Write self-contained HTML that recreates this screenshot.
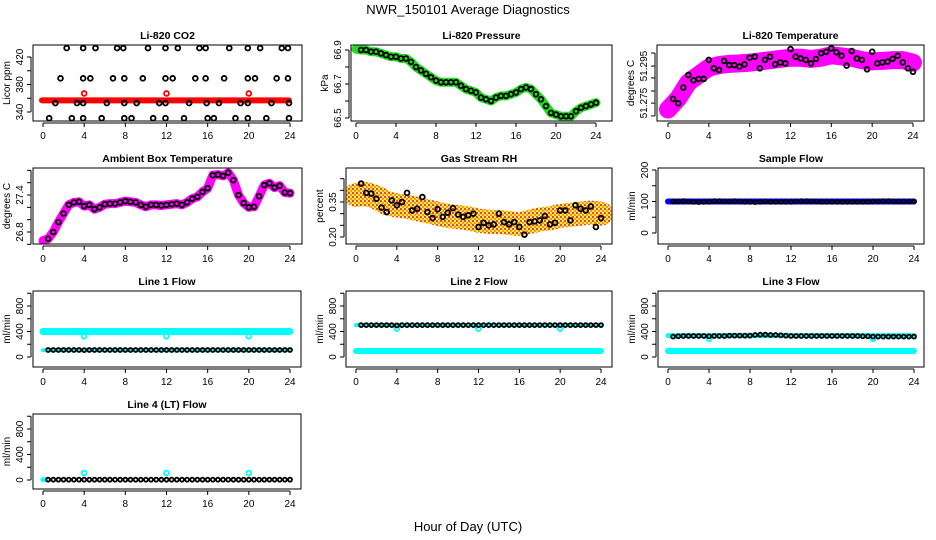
<!DOCTYPE html>
<html><head><meta charset="utf-8"><style>
html,body{margin:0;padding:0;background:#fff;}
svg{display:block;font-family:"Liberation Sans",sans-serif;}
</style></head><body>
<svg id="chart" width="936" height="540" viewBox="0 0 936 540">
<defs>
<pattern id="rhpat" width="4" height="4" patternUnits="userSpaceOnUse">
<rect width="4" height="4" fill="#ffe060"/><rect width="2" height="2" fill="#e85000"/><rect x="2" y="2" width="2" height="2" fill="#f0a000"/><rect x="2" y="0" width="1" height="1" fill="#ffffff"/>
</pattern>
</defs>
<text x="468" y="14" text-anchor="middle" font-size="13">NWR_150101  Average Diagnostics</text>
<text x="468" y="531" text-anchor="middle" font-size="13">Hour of Day (UTC)</text>
</svg>
<script>
const hours = [0.5,1,1.5,2,2.5,3,3.5,4,4.5,5,5.5,6,6.5,7,7.5,8,8.5,9,9.5,10,10.5,11,11.5,12,12.5,13,13.5,14,14.5,15,15.5,16,16.5,17,17.5,18,18.5,19,19.5,20,20.5,21,21.5,22,22.5,23,23.5,24];
const xTicks = [0,4,8,12,16,20,24];

const co2Hours = [2.3,3.9,5.1,7.2,7.8,10.2,11.9,13.1,15.2,15.8,18.1,19.9,21.1,23.2,23.8, 1.7,3.9,4.6,6.8,7.9,9.7,11.9,12.6,14.8,15.8,17.6,19.9,20.6,22.7,23.8, 1.2,3.3,3.9,6.2,7.9,9.1,11.3,11.9,14.2,15.9,17.1,19.2,19.9,22.2,23.9, 0.6,2.8,3.9,5.7,7.9,8.6,10.7,11.9,13.7,16.0,16.6,18.7,19.9,21.7,23.9];
const co2Values = [433,433,433,433,433,433,433,433,433,433,433,433,433,433,433, 389,389,389,389,389,389,389,389,389,389,389,389,389,389,389, 353,353,353,353,353,353,353,353,353,353,353,353,353,353,353, 331,331,331,331,331,331,331,331,331,331,331,331,331,331,331];
const co2BandHours = [-0.1,23.9];
const co2BandValues = [357,357];
const co2OutHours = [4,12,20];
const co2OutValues = [367,367,367];

const pressureValues = [66.9,66.9,66.89,66.89,66.88,66.87,66.86,66.86,66.85,66.85,66.83,66.8,66.78,66.76,66.74,66.72,66.71,66.71,66.71,66.71,66.69,66.67,66.66,66.65,66.62,66.61,66.6,66.62,66.63,66.63,66.64,66.65,66.67,66.68,66.67,66.64,66.61,66.57,66.53,66.52,66.51,66.51,66.51,66.54,66.56,66.57,66.58,66.59];

const tempValues = [51.2768,51.2750,51.2814,51.2865,51.2843,51.2849,51.2849,51.2926,51.2892,51.2885,51.2922,51.2905,51.2905,51.2899,51.2908,51.2935,51.2939,51.2892,51.2926,51.2939,51.2908,51.2916,51.2912,51.2970,51.2939,51.2932,51.2926,51.2912,51.2930,51.2953,51.2959,51.2973,51.2957,51.2943,51.2903,51.2962,51.2932,51.2926,51.2888,51.2959,51.2912,51.2916,51.2919,51.2930,51.2943,51.2916,51.2892,51.2878];
const tempBandHours = [0,1,2,3,4,5,6,7,8,9,10,11,12,13,14,15,16,17,18,19,20,21,22,23,24];
const tempBandValues = [51.2725,51.277,51.2835,51.2865,51.2895,51.2905,51.291,51.2912,51.2915,51.292,51.2925,51.293,51.2935,51.2935,51.293,51.2935,51.2945,51.294,51.2935,51.2925,51.292,51.2922,51.2925,51.2925,51.2915];

const ambientValues = [26.69,26.80,26.96,27.10,27.24,27.28,27.29,27.22,27.24,27.17,27.20,27.25,27.26,27.26,27.28,27.30,27.29,27.28,27.24,27.21,27.24,27.24,27.23,27.24,27.25,27.26,27.24,27.28,27.34,27.37,27.45,27.51,27.72,27.73,27.71,27.76,27.64,27.40,27.27,27.20,27.21,27.38,27.56,27.59,27.52,27.55,27.44,27.43];

const rhValues = [0.429,0.389,0.386,0.364,0.326,0.307,0.357,0.336,0.35,0.389,0.314,0.321,0.371,0.307,0.281,0.319,0.286,0.304,0.324,0.296,0.286,0.293,0.300,0.243,0.261,0.25,0.254,0.30,0.264,0.254,0.264,0.243,0.21,0.264,0.267,0.271,0.29,0.254,0.261,0.314,0.314,0.271,0.336,0.321,0.314,0.331,0.243,0.281];
const rhBandHours = [0,1,2,3,4,5,6,7,8,9,10,11,12,13,14,15,16,17,18,19,20,21,22,23,24];
const rhBandValues = [0.38,0.385,0.37,0.345,0.335,0.33,0.32,0.31,0.3,0.29,0.285,0.28,0.27,0.265,0.265,0.26,0.255,0.265,0.275,0.28,0.29,0.295,0.3,0.305,0.3];

const sampleValues = [100,100,101,100,99,98,99,99,101,101,100,100,101,100,99,99,98,99,100,99,99,99,99,99,100,101,101,100,100,99,99,99,99,99,99,99,99,99,99,100,100,101,101,100,100,100,100,100];
const sampleBandHours = [0,24];
const sampleBandValues = [100,100];

const line1Values = [110,110,110,110,110,110,110,108,110,110,110,110,110,110,110,110,110,110,110,110,110,110,110,110,110,110,110,110,110,110,110,110,110,110,110,110,110,110,110,110,110,110,110,110,110,110,110,110];
const line1HighHours = [0,24];
const line1HighValues = [400,400];
const line1LowHours = [0,24];
const line1LowValues = [105,105];
const line1DipHours = [4,12,20];
const line1DipValues = [325,325,325];

const line2Values = [500,500,500,500,500,500,500,495,500,500,500,500,500,500,500,500,500,500,500,500,500,500,500,500,500,500,500,500,500,500,500,500,500,500,500,500,500,500,500,500,500,500,500,500,500,500,500,500];
const line2HighHours = [0,24];
const line2HighValues = [500,500];
const line2LowHours = [0,24];
const line2LowValues = [95,95];
const line2DipHours = [4,12,20];
const line2DipValues = [445,445,445];

const line3Values = [320,325,330,330,330,330,330,325,330,330,330,335,335,335,335,335,345,350,350,345,345,340,335,330,330,330,330,330,330,330,330,330,330,330,330,330,330,325,325,320,320,320,320,320,320,320,320,320];
const line3HighHours = [0,24];
const line3HighValues = [335,335];
const line3LowHours = [0,24];
const line3LowValues = [95,95];
const line3DipHours = [4,20];
const line3DipValues = [285,285];

const line4Values = [5,5,5,5,5,5,5,5,5,5,5,5,5,5,5,5,5,5,5,5,5,5,5,5,5,5,5,5,5,5,5,5,5,5,5,5,5,5,5,5,5,5,5,5,5,5,5,5];
const line4BandHours = [0,0.3];
const line4BandValues = [5,5];
const line4DipHours = [4,12,20];
const line4DipValues = [110,110,110];

const flowTicks = [0,200,400,600,800,1000];
const flowLabels = ["0","","400","","800",""];

const svg = document.getElementById('chart');
const NS = 'http://www.w3.org/2000/svg';
function mk(tag, attrs, parent){
  const e = document.createElementNS(NS, tag);
  for (const k in attrs) e.setAttribute(k, attrs[k]);
  (parent||svg).appendChild(e);
  return e;
}

function panel(p){
  const g = mk('g', {});
  
  
  const sx = h => p.x0 + (h/24)*(p.x24 - p.x0);
  const sy = v => p.py0 + (v - p.v0)/(p.v1 - p.v0)*(p.py1 - p.py0);
  p.sx = sx; p.sy = sy; p.g = g;
  const t = mk('text', {x:(p.bl+p.br)/2, y:p.bt-6, 'text-anchor':'middle','font-size':10.5,'font-weight':'bold'}, g);
  t.textContent = p.title;
  
  
  const cid = 'clip' + p.name;
  const cp = mk('clipPath', {id:cid}, g);
  mk('rect', {x:p.bl, y:p.bt, width:p.br-p.bl, height:p.bb-p.bt}, cp);
  p.plot = mk('g', {'clip-path':'url(#'+cid+')'}, g);
  
  
  const box = mk('rect', {x:p.bl, y:p.bt, width:p.br-p.bl, height:p.bb-p.bt, fill:'none', stroke:'#000','stroke-width':1}, g);
  
  
  const xa = mk('g', {}, g);
  
  
  mk('line', {x1:sx(xTicks[0]), x2:sx(xTicks[xTicks.length-1]), y1:p.bb+2, y2:p.bb+2, stroke:'#000'}, xa);
  xTicks.forEach(v => {
    mk('line', {x1:sx(v), x2:sx(v), y1:p.bb+2, y2:p.bb+6, stroke:'#000'}, xa);
    const tl = mk('text', {x:sx(v), y:p.bb+18, 'text-anchor':'middle','font-size':10}, xa);
    tl.textContent = v;
    
    
  });
  const ya = mk('g', {}, g);
  
  
  const ax = p.bl - 2;
  mk('line', {x1:ax, x2:ax, y1:sy(p.yTicks[0]), y2:sy(p.yTicks[p.yTicks.length-1]), stroke:'#000'}, ya);
  p.yTicks.forEach((v,i) => {
    const y = sy(v);
    mk('line', {x1:ax-4, x2:ax, y1:y, y2:y, stroke:'#000'}, ya);
    if (p.yLabels[i]) {
      const tl = mk('text', {x:ax-8, y:y, 'text-anchor':'middle','font-size':10, transform:'rotate(-90 '+(ax-8)+' '+y+')'}, ya);
      tl.textContent = p.yLabels[i];
      
      
    }
  });
  const yt = mk('text', {x:p.bl-23, y:(p.bt+p.bb)/2, 'text-anchor':'middle','font-size':10, transform:'rotate(-90 '+(p.bl-23)+' '+((p.bt+p.bb)/2)+')'}, ya);
  yt.textContent = p.ylab;
  
  
  return p;
}
function band(p, hs, vs, color, w, name){
  const pts = hs.map((h,i) => p.sx(h)+','+p.sy(vs[i])).join(' ');
  const e = mk('polyline', {points:pts, fill:'none', stroke:color, 'stroke-width':w, 'stroke-linecap':'round','stroke-linejoin':'round'}, p.plot);
  
  
}
function pts(p, hs, vs, color, name, r){
  hs.forEach((h,i) => {
    const c = mk('circle', {cx:p.sx(h), cy:p.sy(vs[i]), r:r||2.4, fill:'none', stroke:color, 'stroke-width':1.8}, p.plot);
    
    
  });
}

let p = panel({name:'co2-panel', title:'Li-820 CO2', ylab:'Licor ppm', bl:33, br:302, bt:45, bb:121, x0:43, x24:290, v0:340, py0:112, v1:420, py1:57, yTicks:[340,360,380,400,420], yLabels:['340','','380','','420']});
band(p, co2BandHours, co2BandValues, '#ff0000', 6, 'co2-red-band');
pts(p, co2Hours, co2Values, '#000', 'co2-point');
pts(p, co2OutHours, co2OutValues, '#ff0000', 'co2-red-point');

p = panel({name:'pressure-panel', title:'Li-820 Pressure', ylab:'kPa', bl:351, br:612, bt:45, bb:121, x0:356, x24:596, v0:66.5, py0:118, v1:66.9, py1:50, yTicks:[66.5,66.6,66.7,66.8,66.9], yLabels:['66.5','','66.7','','66.9']});
band(p, [0].concat(hours), [66.905].concat(pressureValues), '#22dd22', 9, 'pressure-green-band');
pts(p, hours, pressureValues, '#000', 'pressure-point');

p = panel({name:'temperature-panel', title:'Li-820 Temperature', ylab:'degrees C', bl:657, br:924, bt:45, bb:121, x0:668, x24:913, v0:51.275, py0:54+0.02*2467, v1:51.295, py1:54, yTicks:[51.2954,51.2901,51.2853,51.2800,51.2751,51.2699], yLabels:['','51.295','','','51.275','']});
band(p, tempBandHours, tempBandValues, '#ff00ff', 18, 'temperature-magenta-band');
pts(p, hours, tempValues, '#000', 'temperature-point');

p = panel({name:'ambient-panel', title:'Ambient Box Temperature', ylab:'degrees C', bl:33, br:302, bt:168, bb:244, x0:43, x24:290, v0:26.8, py0:232, v1:27.4, py1:195, yTicks:[26.6,26.8,27.0,27.2,27.4,27.6,27.8], yLabels:['','26.8','','','27.4','','']});
band(p, [0].concat(hours), [26.66].concat(ambientValues), '#ff00ff', 9, 'ambient-magenta-band');
pts(p, hours, ambientValues, '#000', 'ambient-point');

p = panel({name:'rh-panel', title:'Gas Stream RH', ylab:'percent', bl:346, br:612, bt:168, bb:244, x0:356, x24:601, v0:0.20, py0:237, v1:0.35, py1:202, yTicks:[0.20,0.25,0.30,0.35,0.40,0.45], yLabels:['0.20','','','0.35','','']});
band(p, rhBandHours, rhBandValues, 'url(#rhpat)', 24, 'rh-orange-band');
pts(p, hours, rhValues, '#000', 'rh-point');

p = panel({name:'sample-flow-panel', title:'Sample Flow', ylab:'ml/min', bl:658, br:924, bt:168, bb:244, x0:668, x24:914, v0:0, py0:233, v1:200, py1:170, yTicks:[0,50,100,150,200], yLabels:['0','','100','','200']});
band(p, sampleBandHours, sampleBandValues, '#0000ff', 6, 'sample-blue-band');
pts(p, hours, sampleValues, '#000', 'sample-point', 2);

p = panel({name:'line1-panel', title:'Line 1 Flow', ylab:'ml/min', bl:33, br:301, bt:291, bb:367, x0:43, x24:290, v0:0, py0:357, v1:800, py1:306, yTicks:flowTicks, yLabels:flowLabels});
band(p, line1HighHours, line1HighValues, '#00ffff', 7, 'line1-cyan-band');
band(p, line1LowHours, line1LowValues, '#00ffff', 4, 'line1-cyan-low');
pts(p, line1DipHours, line1DipValues, '#00ffff', 'line1-cyan-dip');
pts(p, hours, line1Values, '#000', 'line1-point', 2);

p = panel({name:'line2-panel', title:'Line 2 Flow', ylab:'ml/min', bl:346, br:612, bt:291, bb:367, x0:356, x24:601, v0:0, py0:357, v1:800, py1:306, yTicks:flowTicks, yLabels:flowLabels});
band(p, line2HighHours, line2HighValues, '#00ffff', 4, 'line2-cyan-band');
band(p, line2LowHours, line2LowValues, '#00ffff', 6, 'line2-cyan-low');
pts(p, line2DipHours, line2DipValues, '#00ffff', 'line2-cyan-dip');
pts(p, hours, line2Values, '#000', 'line2-point', 2);

p = panel({name:'line3-panel', title:'Line 3 Flow', ylab:'ml/min', bl:658, br:924, bt:291, bb:367, x0:668, x24:914, v0:0, py0:357, v1:800, py1:306, yTicks:flowTicks, yLabels:flowLabels});
band(p, line3HighHours, line3HighValues, '#00ffff', 5, 'line3-cyan-band');
band(p, line3LowHours, line3LowValues, '#00ffff', 6, 'line3-cyan-low');
pts(p, line3DipHours, line3DipValues, '#00ffff', 'line3-cyan-dip');
pts(p, hours, line3Values, '#000', 'line3-point', 2);

p = panel({name:'line4-panel', title:'Line 4 (LT) Flow', ylab:'ml/min', bl:33, br:301, bt:414, bb:489, x0:43, x24:290, v0:0, py0:480, v1:800, py1:429, yTicks:flowTicks, yLabels:flowLabels});
band(p, line4BandHours, line4BandValues, '#00ffff', 5, 'line4-cyan-band');
pts(p, line4DipHours, line4DipValues, '#00ffff', 'line4-cyan-dip');
pts(p, hours, line4Values, '#000', 'line4-point', 2);
</script>
</body></html>
